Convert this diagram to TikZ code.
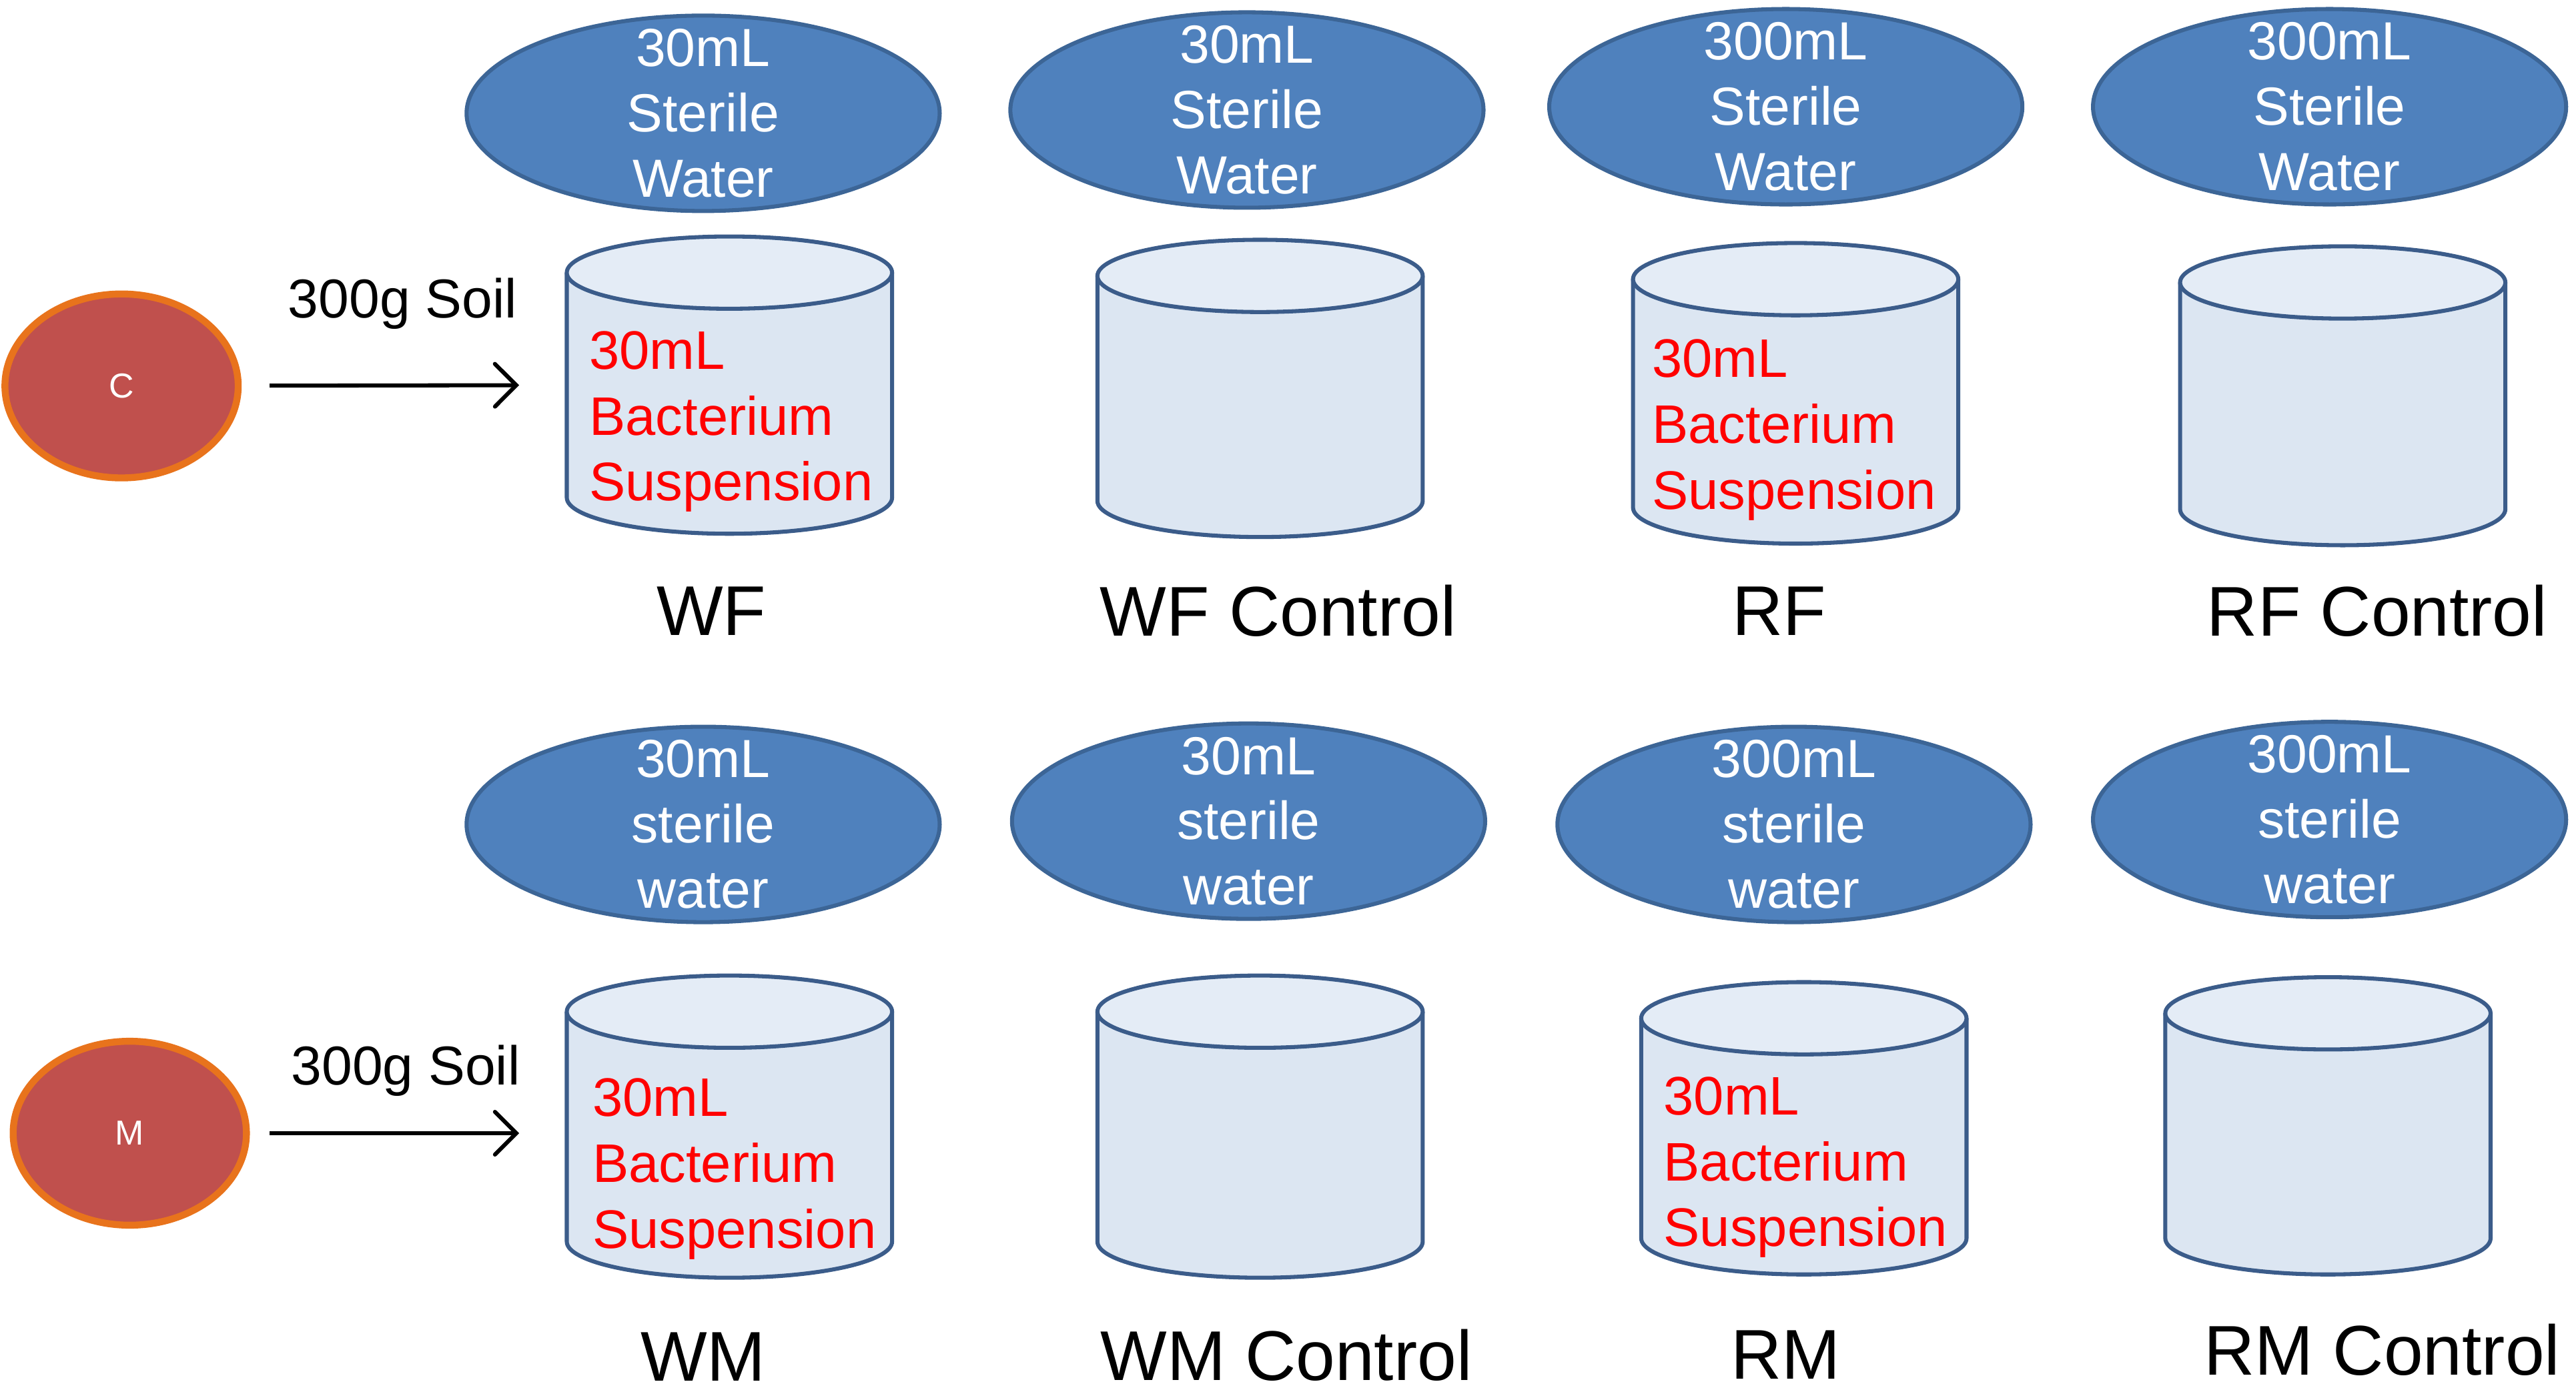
\documentclass[tikz,border=0pt]{standalone}
\usepackage{fontspec}
\setmainfont{Liberation Sans}
\usetikzlibrary{shapes.geometric,arrows.meta}

\definecolor{waterblue}{HTML}{4F81BD}
\definecolor{waterline}{HTML}{3C6596}
\definecolor{beakerfill}{HTML}{DCE6F2}
\definecolor{beakertop}{HTML}{E4ECF6}
\definecolor{beakerline}{HTML}{3B5C8A}
\definecolor{soilred}{HTML}{C0504D}
\definecolor{soilrim}{HTML}{E8731C}

\tikzset{
  water/.style={draw=waterline, line width=0.7pt, fill=waterblue, ellipse, minimum width=28.8mm, minimum height=11.9mm, inner sep=0pt},
  watertext/.style={text=white, font=\fontsize{9.3}{11.3}\selectfont, align=center, inner sep=0pt},
  soil/.style={draw=soilrim, line width=1.2pt, fill=soilred, ellipse, minimum width=14.2mm, minimum height=11.2mm, inner sep=0pt, text=white, font=\fontsize{6}{7}\selectfont},
  suspension/.style={text=red, font=\fontsize{9.4}{11.4}\selectfont, align=left, anchor=north west, inner sep=0pt},
  group/.style={font=\fontsize{12.2}{14}\selectfont, inner sep=0pt},
  soiltext/.style={font=\fontsize{9.5}{11}\selectfont, inner sep=0pt},
  feed/.style={line width=0.7pt, -{Straight Barb[length=1.3mm,width=2.6mm,line cap=round]}, shorten >=2.9mm},
  beakeredge/.style={draw=beakerline, line width=0.7pt},
  pics/beaker/.style={code={
    \fill[beakerfill] (-99,0) -- (-99,#1) arc[start angle=180,end angle=0,x radius=99,y radius=22] -- (99,0) -- cycle;
    \draw[beakeredge] (-99,0) -- (-99,#1) arc[start angle=180,end angle=0,x radius=99,y radius=22] -- (99,0);
    \filldraw[beakeredge, fill=beakertop] (0,0) ellipse[x radius=99,y radius=22];
    \coordinate (-west) at (-99,#1/2);
  }}
}

\begin{document}
\begin{tikzpicture}[x=0.1mm, y=-0.1mm]
\useasboundingbox (0,0) rectangle (1568,846);

% C row
\node (soilC) [soil] at (74,235) {C};
\node (soilCtxt) [soiltext] at (245,185) {300g Soil};

\node (w1) [water] at (428,69) {};
\node [watertext] at (w1) {30mL\\Sterile\\Water};
\pic (wf) at (444,166) {beaker=137};
\node (wftxt) [suspension] at (358,201) {30mL\\Bacterium\\Suspension};
\node (wf label) [group] at (433,372) {WF};

\node (w2) [water] at (759,67) {};
\node [watertext] at (w2) {30mL\\Sterile\\Water};
\pic (wfc) at (767,168) {beaker=137};
\node (wfc label) [group] at (778,372) {WF Control};

\node (w3) [water] at (1087,65) {};
\node [watertext] at (w3) {300mL\\Sterile\\Water};
\pic (rf) at (1093,170) {beaker=139};
\node (rftxt) [suspension] at (1005,206) {30mL\\Bacterium\\Suspension};
\node (rf label) [group] at (1083,372) {RF};

\node (w4) [water] at (1418,65) {};
\node [watertext] at (w4) {300mL\\Sterile\\Water};
\pic (rfc) at (1426,172) {beaker=138};
\node (rfc label) [group] at (1447,372) {RF Control};

\draw[feed, shorten <=1.7mm] (soilC) -- (wf-west);

% M row
\node (soilM) [soil] at (79,690) {M};
\node (soilMtxt) [soiltext] at (247,652) {300g Soil};

\node (w5) [water] at (428,502) {};
\node [watertext] at (w5) {30mL\\sterile\\water};
\pic (wm) at (444,616) {beaker=140};
\node (wmtxt) [suspension] at (360,656) {30mL\\Bacterium\\Suspension};
\node (wm label) [group] at (428,826) {WM};

\node (w6) [water] at (760,500) {};
\node [watertext] at (w6) {30mL\\sterile\\water};
\pic (wmc) at (767,616) {beaker=140};
\node (wmc label) [group] at (783,825) {WM Control};

\node (w7) [water] at (1092,502) {};
\node [watertext] at (w7) {300mL\\sterile\\water};
\pic (rm) at (1098,620) {beaker=134};
\node (rmtxt) [suspension] at (1012,655) {30mL\\Bacterium\\Suspension};
\node (rm label) [group] at (1087,825) {RM};

\node (w8) [water] at (1418,499) {};
\node [watertext] at (w8) {300mL\\sterile\\water};
\pic (rmc) at (1417,617) {beaker=137};
\node (rmc label) [group] at (1450,822) {RM Control};

\draw[feed, shorten <=1.2mm] (soilM) -- (soilM -| wm-west);
\end{tikzpicture}
\end{document}
